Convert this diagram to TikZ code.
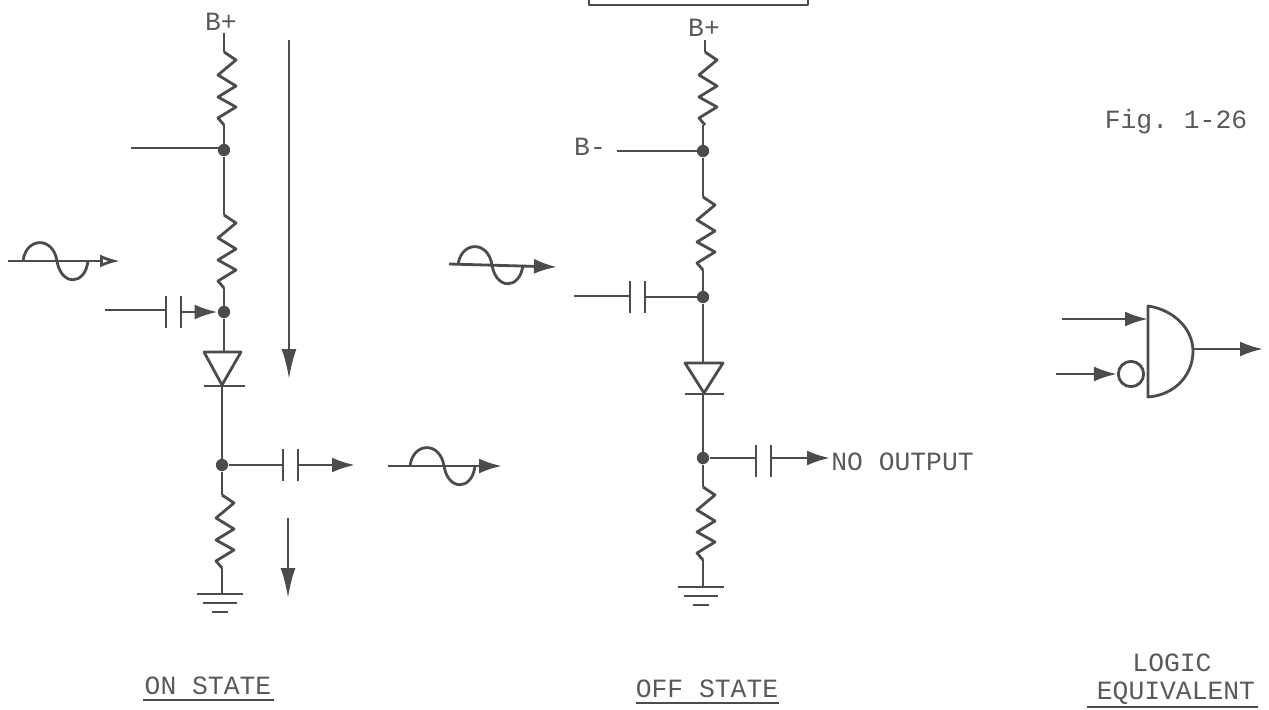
\documentclass[tikz,border=0pt]{standalone}
\usepackage{fontspec}
\setmonofont{Liberation Mono}
\usetikzlibrary{arrows.meta}
\definecolor{inkgray}{gray}{0.3}
\tikzset{
    wire/.style={line width=1.6pt, draw=inkgray, line join=round},
    flow/.style={wire, -{Latex[length=4.6mm,width=3mm]}},
    openflow/.style={wire, -{Latex[open,length=4mm,width=2.6mm]}},
    longflow/.style={wire, -{Latex[length=6mm,width=3mm]}},
    junction/.style={circle, fill=inkgray, inner sep=0pt, minimum size=7pt},
    lbl/.style={text=black!65, font=\ttfamily\fontsize{15}{17}\selectfont, inner sep=0pt},
    pics/zigres/.style={code={
        \draw[wire] (0,0)--++(12,8)--++(-18,15)--++(18,11)--++(-18,11)--++(18,10)--++(-18,11)--++(6,7);
    }},
    pics/sinewave/.style={code={
        \draw[wire] (0,0) .. controls (3,-24) and (30,-25) .. (34,0) .. controls (38,25) and (62,25) .. (65,0);
    }},
    pics/capplates/.style={code={
        \draw[wire] (0,-16)--(0,16);
        \draw[wire] (15,-16)--(15,16);
    }},
    pics/groundbars/.style={code={
        \draw[wire] (-26,0)--(20,0);
        \draw[wire] (-20,9)--(14,9);
        \draw[wire] (-11,18)--(5,18);
    }},
}
\begin{document}
\begin{tikzpicture}[x=0.02cm, y=-0.02cm]
    \useasboundingbox (0,0) rectangle (1269,710);

    % box cut by the top edge
    \draw[wire] (589,0)--(589,5)--(808,5)--(808,0);

    % on state
    \node[lbl] (bplusA) at (221,22) {B+};
    \node[junction] (onA) at (224,150) {};
    \node[junction] (onB) at (224,312) {};
    \node[junction] (onC) at (222,465) {};
    \coordinate (onAin) at (131,148);
    \draw[wire] (224,33)--(224,52) (224,125)--(onA);
    \draw (224,52) pic {zigres};
    \draw[wire] (onAin)--(224,148) (onA)--(224,215);
    \draw (224,215) pic {zigres};
    \draw[wire] (224,288)--(onB)--(224,352);
    \draw[wire] (204,352)--(241,352)--(222,385)--cycle;
    \draw[wire] (204,386)--(245,386);
    \draw[wire] (222,386)--(onC)--(222,495);
    \draw (222,495) pic {zigres};
    \draw[wire] (222,568)--(222,594);
    \draw (223,594) pic {groundbars};

    \draw[longflow] (289,40)--(289,379);
    \draw[longflow] (288,518)--(288,598);

    \draw[wire] (105,310)--(166,310);
    \draw (166,312) pic {capplates};
    \draw[flow] (181,312)--(onB.west);
    \draw[wire] (onC)--(283,465);
    \draw (283,465) pic {capplates};
    \draw[flow] (298,465)--(355,465);

    \draw[openflow] (8,261)--(120,261);
    \draw (23,261) pic {sinewave};
    \draw[flow] (388,466)--(502,466);
    \draw (410,466) pic {sinewave};

    \node[lbl] (onlbl) at (208,686) {ON STATE};
    \draw[wire] (143,700)--(274,700);

    % off state
    \node[lbl] (bplusB) at (704,28) {B+};
    \node[lbl] (bminus) at (590,147) {B-};
    \node[junction] (offA) at (703,151) {};
    \node[junction] (offB) at (703,297) {};
    \node[junction] (offC) at (703,458) {};
    \coordinate (offAin) at (617,151);
    \draw[wire] (705,40)--(705,52) (703,125)--(offA);
    \draw (705,52) pic {zigres};
    \draw[wire] (offAin)--(offA)--(703,197);
    \draw (703,197) pic {zigres};
    \draw[wire] (703,270)--(offB)--(703,363);
    \draw[wire] (685,363)--(723,363)--(704,393)--cycle;
    \draw[wire] (685,394)--(724,394);
    \draw[wire] (703,394)--(offC)--(703,487);
    \draw (703,487) pic {zigres};
    \draw[wire] (703,560)--(703,587);
    \draw (704,587) pic {groundbars};

    \draw[wire] (574,296)--(630,296);
    \draw (630,297) pic {capplates};
    \draw[wire] (645,297)--(offB);
    \draw[wire] (offC)--(756,458);
    \draw (756,461) pic {capplates};
    \draw[flow] (771,458)--(830,458);
    \node[lbl, anchor=west] (noout) at (831,462) {NO OUTPUT};

    \draw[flow] (449,264)--(557,267);
    \draw (458,265) pic {sinewave};

    \node[lbl] (offlbl) at (707,689) {OFF STATE};
    \draw[wire] (636,703)--(779,703);

    % logic equivalent
    \coordinate (gateTop) at (1148,306);
    \coordinate (gateBot) at (1148,397);
    \node[circle, wire, draw, minimum size=14.4pt, inner sep=0pt] (bubble) at (1131,374) {};
    \draw[wire] (gateTop) .. controls (1175,310) and (1193,330) .. (1193,351) .. controls (1193,375) and (1175,395) .. (gateBot)--cycle;
    \draw[flow] (1062,319)--(1148,319);
    \draw[flow] (1056,374)--(bubble.west);
    \draw[flow] (1193,349)--(1263,349);

    \node[lbl] (figlbl) at (1176,122) {Fig. 1-26};
    \node[lbl] (logiclbl) at (1172,663) {LOGIC};
    \node[lbl] (equivlbl) at (1176,693) {EQUIVALENT};
    \draw[wire] (1087,707)--(1258,707);
\end{tikzpicture}
\end{document}
